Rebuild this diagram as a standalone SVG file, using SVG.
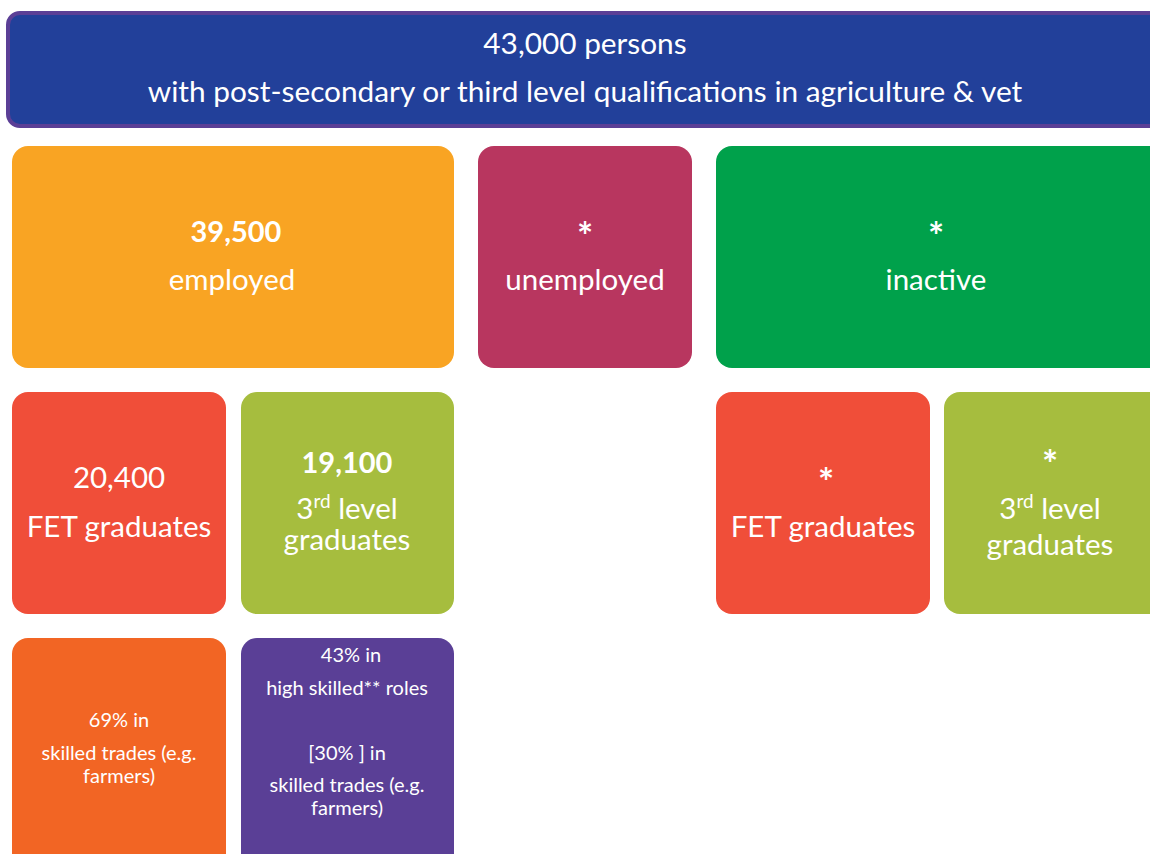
<svg xmlns="http://www.w3.org/2000/svg" width="1150" height="854" viewBox="0 0 1150 854">
  <style>
    text { font-family: Lato, "Open Sans", "Liberation Sans", sans-serif; fill: #ffffff; text-anchor: middle; }
    .head { font-size: 29.8px; }
    .big { font-size: 29.5px; }
    .num { font-size: 29px; font-weight: bold; }
    .star { font-size: 38px; font-weight: bold; }
    .small { font-size: 20px; }
    .sup { font-size: 19px; }
  </style>
  <rect width="1150" height="854" fill="#ffffff"/>

  <!-- total population -->
  <g id="total">
    <rect x="8" y="13" width="1160" height="113" rx="12" fill="#22409a" stroke="#5b3f96" stroke-width="4"/>
    <text class="head" x="585" y="54">43,000 persons</text>
    <text class="head" x="585" y="102">with post-secondary or third level qualifications in agriculture &amp; vet</text>
  </g>

  <!-- labour status -->
  <g id="employed">
    <rect x="12" y="146" width="442" height="222" rx="16" fill="#f9a423"/>
    <text class="num" x="236" y="242">39,500</text>
    <text class="big" x="232" y="290">employed</text>
  </g>
  <g id="unemployed">
    <rect x="478" y="146" width="214" height="222" rx="16" fill="#b8365f"/>
    <text class="star" x="585" y="250">*</text>
    <text class="big" x="585" y="290">unemployed</text>
  </g>
  <g id="inactive">
    <rect x="716" y="146" width="460" height="222" rx="16" fill="#00a14b"/>
    <text class="star" x="936" y="250">*</text>
    <text class="big" x="936" y="290">inactive</text>
  </g>

  <!-- qualification level -->
  <g id="employed-fet">
    <rect x="12" y="392" width="214" height="222" rx="16" fill="#f04e39"/>
    <text class="big" x="119" y="488">20,400</text>
    <text class="big" x="119" y="537">FET graduates</text>
  </g>
  <g id="employed-third">
    <rect x="241" y="392" width="213" height="222" rx="16" fill="#a6bd3e"/>
    <text class="num" x="347" y="473">19,100</text>
    <text class="big" x="347" y="519">3<tspan class="sup" baseline-shift="super">rd</tspan> level</text>
    <text class="big" x="347" y="550">graduates</text>
  </g>
  <g id="inactive-fet">
    <rect x="716" y="392" width="214" height="222" rx="16" fill="#f04e39"/>
    <text class="star" x="826" y="496">*</text>
    <text class="big" x="823" y="537">FET graduates</text>
  </g>
  <g id="inactive-third">
    <rect x="944" y="392" width="230" height="222" rx="16" fill="#a6bd3e"/>
    <text class="star" x="1050" y="478">*</text>
    <text class="big" x="1050" y="519">3<tspan class="sup" baseline-shift="super">rd</tspan> level</text>
    <text class="big" x="1050" y="555">graduates</text>
  </g>

  <!-- occupations -->
  <g id="fet-occupations">
    <rect x="12" y="638" width="214" height="240" rx="16" fill="#f26524"/>
    <text class="small" x="119" y="727">69% in</text>
    <text class="small" x="119" y="760">skilled trades (e.g.</text>
    <text class="small" x="119" y="783">farmers)</text>
  </g>
  <g id="third-occupations">
    <rect x="241" y="638" width="213" height="240" rx="16" fill="#5a3f96"/>
    <text class="small" x="351" y="662">43% in</text>
    <text class="small" x="347" y="695">high skilled** roles</text>
    <text class="small" x="347" y="760">[30% ] in</text>
    <text class="small" x="347" y="792">skilled trades (e.g.</text>
    <text class="small" x="347" y="815">farmers)</text>
  </g>
</svg>
